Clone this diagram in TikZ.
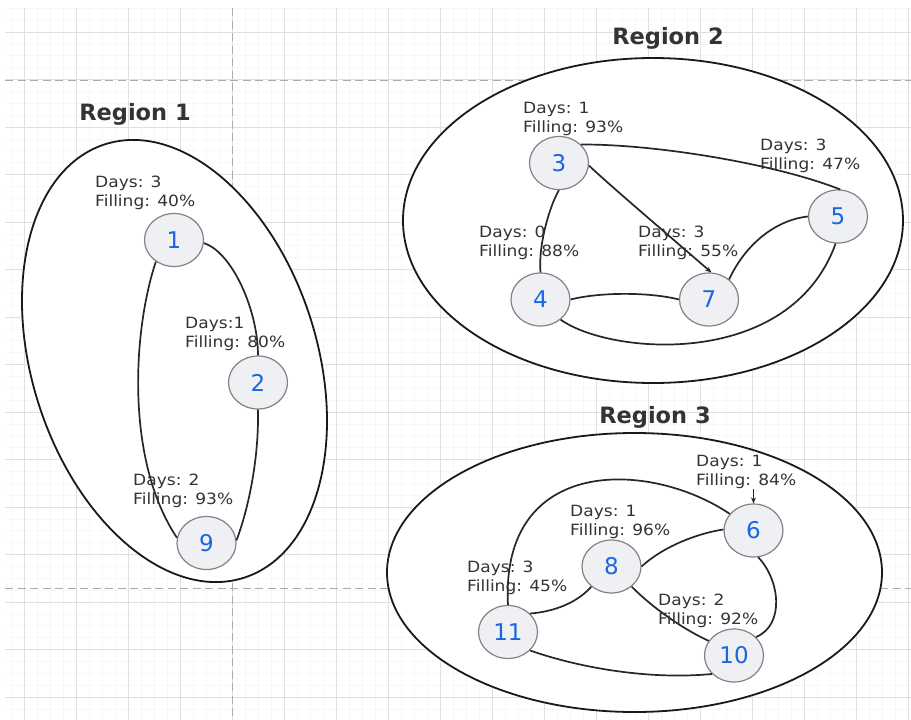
\documentclass[tikz,border=0pt]{standalone}
\usepackage{fontspec}
\setmainfont{DejaVu Sans}
\newfontfamily\labfont[FakeStretch=1.1]{DejaVu Sans}
\usetikzlibrary{arrows.meta,shapes.geometric}
\definecolor{gridmaj}{HTML}{E0E0E0}
\definecolor{gridmin}{HTML}{F7F7F7}
\definecolor{pagedash}{HTML}{ABABAB}
\definecolor{nodefill}{HTML}{EEF0F3}
\definecolor{nodeline}{HTML}{828282}
\definecolor{numblue}{HTML}{1A66E0}
\definecolor{labgray}{HTML}{333333}
\definecolor{titlegray}{HTML}{333333}
\begin{document}
\begin{tikzpicture}[x=1pt,y=-1pt,
  region/.style={draw=black!90, fill=white, line width=1.8pt},
  site/.style={shape=ellipse, draw=nodeline, fill=nodefill, line width=1.2pt,
    minimum width=59pt, minimum height=53pt, inner sep=0pt,
    text=numblue, font=\fontsize{23}{23}\selectfont},
  link/.style={draw=black!85, line width=1.7pt},
  tip/.style={-{Stealth[length=6pt,width=5pt]}},
  lab/.style={anchor=north west, inner sep=0pt, align=left, text=labgray,
    font=\labfont\fontsize{15.5}{18.5}\selectfont},
  title/.style={anchor=base, inner sep=0pt, text=titlegray,
    font=\bfseries\fontsize{22.5}{27}\selectfont},
  gmin/.style={draw=gridmin, line width=0.6pt},
  gmaj/.style={draw=gridmaj, line width=0.9pt},
  pagebreak/.style={draw=pagedash, line width=0.9pt, dash pattern=on 8pt off 4.5pt},
]
% canvas
\fill[white] (0,0) rectangle (911,720);
\useasboundingbox (0,0) rectangle (911,720);
\begin{scope}
  \clip (5,8) rectangle (911,720);
  \foreach \i in {0,...,70} \draw[gmin] ({11.7+13*\i},8) -- ({11.7+13*\i},720);
  \foreach \j in {0,...,60} \draw[gmin] (5,{8.25+11.875*\j}) -- (911,{8.25+11.875*\j});
  \foreach \i in {0,...,17} \draw[gmaj] ({24.7+52*\i},8) -- ({24.7+52*\i},720);
  \foreach \j in {0,...,14} \draw[gmaj] (5,{32+47.5*\j}) -- (911,{32+47.5*\j});
  \draw[pagebreak] (5,80) -- (911,80);
  \draw[pagebreak] (5,588) -- (911,588);
  \draw[pagebreak] (232.7,8) -- (232.7,720);
\end{scope}

% regions
\draw[region, rotate around={17.8:(174.5,361)}] (174.5,361) ellipse [x radius=142.5, y radius=227.6];
\draw[region] (653,220.5) ellipse [x radius=250, y radius=162.5];
\draw[region] (634.5,572.5) ellipse [x radius=247.5, y radius=139.5];

\node[title] (t1) at (135,120.5) {Region 1};
\node[title] (t2) at (668,44.5) {Region 2};
\node[title] (t3) at (655,423) {Region 3};

% nodes
\node[site] (n1) at (174,240) {1};
\node[site] (n2) at (258,382.5) {2};
\node[site] (n9) at (206.5,543) {9};
\node[site] (n3) at (559,163) {3};
\node[site] (n5) at (838,216.5) {5};
\node[site] (n4) at (540.5,299.5) {4};
\node[site] (n7) at (709,299.5) {7};
\node[site] (n6) at (753.5,530.5) {6};
\node[site] (n8) at (611.5,566.5) {8};
\node[site] (n11) at (508,632) {11};
\node[site] (n10) at (734,655.5) {10};

% connectors, region 1
\draw[link] (n1.-6) .. controls (232,252) and (258,310) .. (n2.north);
\draw[link] (n1.-130) .. controls (133,330) and (125,460) .. (n9.170);
\draw[link] (n2.south) .. controls (259,460) and (248,510) .. (n9.5);
% region 2
\draw[link] (n3.40) .. controls (650,144) and (770,162) .. (n5.85);
\draw[link,tip] (n3.-5) .. controls (615,190) and (680,245) .. (n7.85);
\draw[link] (n3.south) .. controls (550,205) and (538,245) .. (n4.north);
\draw[link] (n4.east) .. controls (600,292) and (650,292) .. (n7.west);
\draw[link] (n4.-45) .. controls (610,355) and (790,370) .. (n5.-95);
\draw[link] (n7.45) .. controls (745,245) and (775,220) .. (n5.180);
% region 3
\draw[link] (n11.north) .. controls (500,455) and (650,460) .. (n6.145);
\draw[link] (n8.0) .. controls (665,545) and (700,533) .. (n6.178);
\draw[link] (n8.-135) .. controls (575,605) and (550,612) .. (n11.40);
\draw[link] (n8.-45) .. controls (655,610) and (685,630) .. (n10.150);
\draw[link] (n6.-80) .. controls (780,580) and (785,625) .. (n10.40);
\draw[link] (n11.-40) .. controls (580,668) and (650,680) .. (n10.-140);
\coordinate (a6) at (753.5,489);
\draw[link,tip,line width=1.2pt] (a6) -- (n6.north);

% labels
\node[lab] (l1) at (95,176) {Days: 3\\Filling: 40\%};
\node[lab] (l2) at (185,317) {Days:1\\Filling: 80\%};
\node[lab] (l9) at (133,474) {Days: 2\\Filling: 93\%};
\node[lab] (l3) at (523,102) {Days: 1\\Filling: 93\%};
\node[lab] (l5) at (760,139) {Days: 3\\Filling: 47\%};
\node[lab] (l4) at (479,226) {Days: 0\\Filling: 88\%};
\node[lab] (l7) at (638,226) {Days: 3\\Filling: 55\%};
\node[lab] (l6) at (696,455) {Days: 1\\Filling: 84\%};
\node[lab] (l8) at (570,505) {Days: 1\\Filling: 96\%};
\node[lab] (l11) at (467,561) {Days: 3\\Filling: 45\%};
\node[lab] (l10) at (658,594) {Days: 2\\Filling: 92\%};
\end{tikzpicture}
\end{document}
